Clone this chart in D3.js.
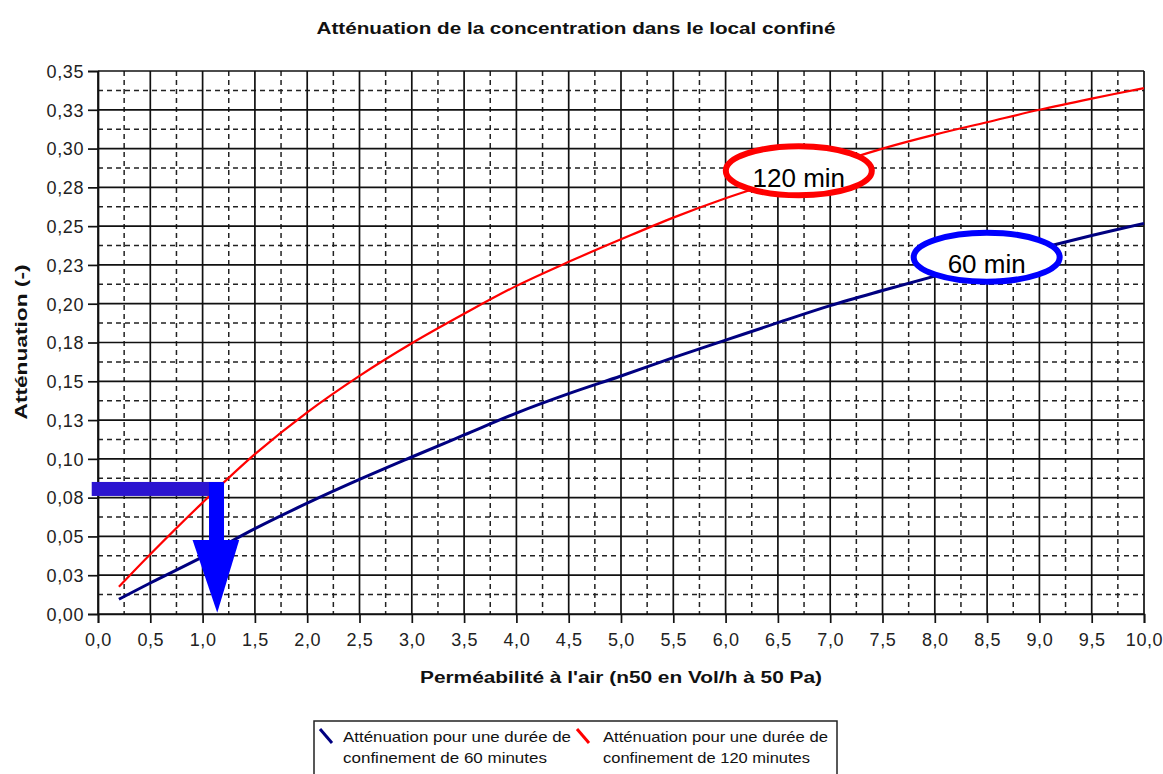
<!DOCTYPE html>
<html>
<head>
<meta charset="utf-8">
<script src="https://cdn.jsdelivr.net/npm/d3@7"></script>
<style>
  html, body { margin: 0; padding: 0; background: #fff; }
  svg { display: block; }
  text { font-family: "Liberation Sans", Arial, sans-serif; }
</style>
</head>
<body>
<svg id="chart" width="1163" height="774"></svg>
<script>
// ---------- data ----------
const xValues = [0.2, 0.5, 1.0, 1.5, 2.0, 2.5, 3.0, 3.5, 4.0, 4.5, 5.0, 5.5, 6.0, 6.5, 7.0, 7.5, 8.0, 8.5, 9.0, 9.5, 10.0];
const att60 = [0.0095, 0.0200, 0.0368, 0.0550, 0.0714, 0.0867, 0.1012, 0.1154, 0.1295, 0.1420, 0.1534, 0.1652, 0.1765, 0.1878, 0.1988, 0.2085, 0.2178, 0.2268, 0.2356, 0.2440, 0.2518];
const att120 = [0.0175, 0.0385, 0.0718, 0.1030, 0.1300, 0.1535, 0.1745, 0.1935, 0.2115, 0.2270, 0.2415, 0.2555, 0.2680, 0.2790, 0.2895, 0.3000, 0.3090, 0.3170, 0.3250, 0.3322, 0.3390];

const xTickValues = [0, 0.5, 1, 1.5, 2, 2.5, 3, 3.5, 4, 4.5, 5, 5.5, 6, 6.5, 7, 7.5, 8, 8.5, 9, 9.5, 10];
const xTickLabels = ["0,0","0,5","1,0","1,5","2,0","2,5","3,0","3,5","4,0","4,5","5,0","5,5","6,0","6,5","7,0","7,5","8,0","8,5","9,0","9,5","10,0"];
const yTickValues = [0, 0.025, 0.05, 0.075, 0.1, 0.125, 0.15, 0.175, 0.2, 0.225, 0.25, 0.275, 0.3, 0.325, 0.35];
const yTickLabels = ["0,00","0,03","0,05","0,08","0,10","0,13","0,15","0,18","0,20","0,23","0,25","0,28","0,30","0,33","0,35"];

const seriesNames = ["Atténuation pour une durée de|confinement de 60 minutes", "Atténuation pour une durée de|confinement de 120 minutes"];
const seriesColors = ["#000080", "#ff0000"];

const titleText = "Atténuation de la concentration dans le local confiné";
const xTitle = "Perméabilité à l'air (n50 en Vol/h à 50 Pa)";
const yTitle = "Atténuation (-)";

// annotations (data units)
const calloutLabels = ["120 min", "60 min"];
const calloutX = [6.70, 8.496];
const calloutY = [0.2857, 0.2300];
const arrowBarX = [-0.06, 1.2];
const arrowBarY = 0.0806;
const arrowShaftX = 1.133;
const arrowShaftTop = 0.0850;
const arrowHeadBase = 0.0477;
const arrowHeadX = [0.904, 1.35];
const arrowTip = [1.14, 0.0008];

// ---------- layout ----------
const svg = d3.select("#chart");
const L = 98, R = 1144, T = 71, B = 614;
const x = d3.scaleLinear().domain([0, 10]).range([L, R]);
const y = d3.scaleLinear().domain([0, 0.35]).range([B, T]);

svg.append("rect").attr("width", 1163).attr("height", 774).attr("fill", "#fff");

// title
svg.append("text").attr("x", 576).attr("y", 34).attr("text-anchor", "middle")
  .attr("font-size", 16).attr("font-weight", "bold").attr("fill", "#111")
  .attr("textLength", 519).attr("lengthAdjust", "spacingAndGlyphs").text(titleText);

// minor dashed grid
const xMinor = xTickValues.slice(0, -1).map((v, i) => (v + xTickValues[i + 1]) / 2);
const yMinor = yTickValues.slice(0, -1).map((v, i) => (v + yTickValues[i + 1]) / 2);
const grid = svg.append("g");
grid.selectAll(".vminor").data(xMinor).join("line")
  .attr("x1", d => x(d)).attr("x2", d => x(d)).attr("y1", T).attr("y2", B)
  .attr("stroke", "#222").attr("stroke-width", 1.5).attr("stroke-dasharray", "5,4");
grid.selectAll(".hminor").data(yMinor).join("line")
  .attr("y1", d => y(d)).attr("y2", d => y(d)).attr("x1", L).attr("x2", R)
  .attr("stroke", "#222").attr("stroke-width", 1.5).attr("stroke-dasharray", "5,4");

// major grid (solid)
grid.selectAll(".vmajor").data(xTickValues).join("line")
  .attr("x1", d => x(d)).attr("x2", d => x(d)).attr("y1", T).attr("y2", B)
  .attr("stroke", "#111").attr("stroke-width", 1.7);
grid.selectAll(".hmajor").data(yTickValues).join("line")
  .attr("y1", d => y(d)).attr("y2", d => y(d)).attr("x1", L).attr("x2", R)
  .attr("stroke", "#111").attr("stroke-width", 1.7);

// axes
const xAxis = d3.axisBottom(x).tickValues(xTickValues).tickSize(9).tickPadding(10)
  .tickFormat((d, i) => xTickLabels[i]);
const gx = svg.append("g").attr("transform", `translate(0,${B})`).call(xAxis);
const yAxis = d3.axisLeft(y).tickValues(yTickValues).tickSize(10).tickPadding(4)
  .tickFormat((d, i) => yTickLabels[i]);
const gy = svg.append("g").attr("transform", `translate(${L},0)`).call(yAxis);
[gx, gy].forEach(g => {
  g.select(".domain").attr("stroke", "#111").attr("stroke-width", 1.7);
  g.selectAll(".tick line").attr("stroke", "#111").attr("stroke-width", 1.7);
  g.selectAll(".tick text").attr("font-size", 18).attr("fill", "#222")
    .attr("font-family", "'Liberation Sans', Arial, sans-serif").attr("letter-spacing", "0.6px");
});
gy.selectAll(".tick text").attr("dy", "0.35em");

// axis titles
svg.append("text").attr("x", 621).attr("y", 683).attr("text-anchor", "middle")
  .attr("font-size", 16).attr("font-weight", "bold").attr("fill", "#111")
  .attr("textLength", 402).attr("lengthAdjust", "spacingAndGlyphs").text(xTitle);
svg.append("text").attr("transform", "translate(27,342) rotate(-90)").attr("text-anchor", "middle")
  .attr("font-size", 16).attr("font-weight", "bold").attr("fill", "#111")
  .attr("textLength", 155).attr("lengthAdjust", "spacingAndGlyphs").text(yTitle);

// curves
const line = d3.line().x(d => x(d[0])).y(d => y(d[1])).curve(d3.curveCatmullRom.alpha(0.5));
const series = [att60, att120];
const widths = [3, 2.2];
series.forEach((vals, i) => {
  svg.append("path").datum(xValues.map((xv, j) => [xv, vals[j]]))
    .attr("d", line).attr("fill", "none").attr("stroke", seriesColors[i])
    .attr("stroke-width", widths[i]).attr("stroke-linejoin", "round");
});

// arrow annotation
svg.append("rect").attr("x", x(arrowBarX[0])).attr("y", y(arrowBarY) - 7)
  .attr("width", x(arrowBarX[1]) - x(arrowBarX[0])).attr("height", 14).attr("fill", "#2b14d0");
svg.append("rect").attr("x", x(arrowShaftX) - 7.5).attr("y", y(arrowShaftTop))
  .attr("width", 15).attr("height", y(arrowHeadBase) - y(arrowShaftTop) + 1).attr("fill", "#0000ff");
svg.append("path").attr("d", d3.line()([
    [x(arrowHeadX[0]), y(arrowHeadBase)], [x(arrowHeadX[1]), y(arrowHeadBase)], [x(arrowTip[0]), y(arrowTip[1])]
  ]) + "Z").attr("fill", "#0000ff");

// callout ellipses
const calloutColors = ["#ff0000", "#0000ff"];
calloutLabels.forEach((lab, i) => {
  svg.append("ellipse").attr("cx", x(calloutX[i])).attr("cy", y(calloutY[i]))
    .attr("rx", 73).attr("ry", 24.5).attr("fill", "#fff")
    .attr("stroke", calloutColors[i]).attr("stroke-width", 6);
  svg.append("text").attr("x", x(calloutX[i])).attr("y", y(calloutY[i]) + 16)
    .attr("text-anchor", "middle").attr("font-size", 26).attr("fill", "#000").text(lab);
});

// legend
const lg = svg.append("g");
lg.append("rect").attr("x", 314).attr("y", 721).attr("width", 523).attr("height", 70)
  .attr("fill", "#fff").attr("stroke", "#222").attr("stroke-width", 1.5);
const legX = [320, 577];
const legTextX = [343, 603];
const legLens = [[228, 204], [225, 207]];
seriesNames.forEach((nm, i) => {
  lg.append("line").attr("x1", legX[i]).attr("y1", 729).attr("x2", legX[i] + 12).attr("y2", 743)
    .attr("stroke", seriesColors[i]).attr("stroke-width", 3);
  nm.split("|").forEach((t, k) => {
    lg.append("text").attr("x", legTextX[i]).attr("y", 742 + k * 21)
      .attr("font-size", 15).attr("fill", "#111")
      .attr("textLength", legLens[i][k]).attr("lengthAdjust", "spacingAndGlyphs").text(t);
  });
});
</script>
</body>
</html>
